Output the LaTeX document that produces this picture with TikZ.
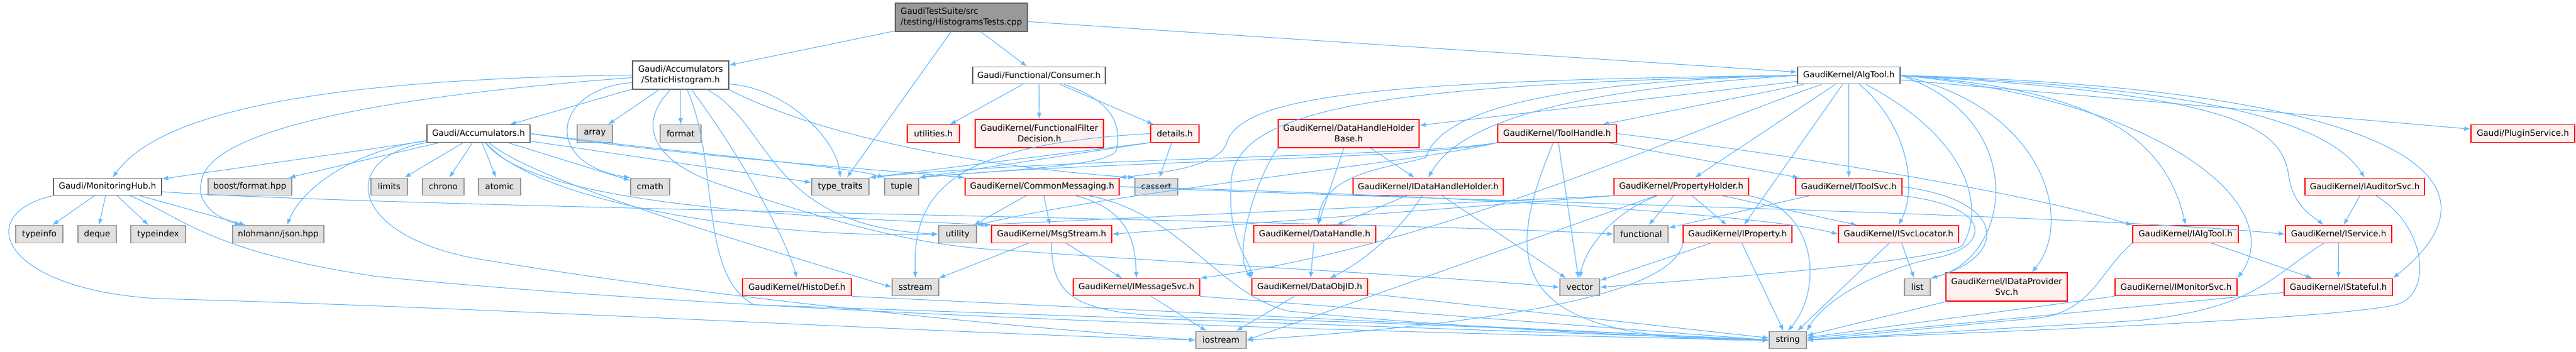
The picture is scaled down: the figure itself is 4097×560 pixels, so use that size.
\documentclass[tikz,border=0pt]{standalone}
\usepackage{fontspec}
\setmainfont{DejaVu Sans}
\usetikzlibrary{arrows.meta}
\definecolor{edgeblue}{HTML}{63B8FF}
\definecolor{redfill}{HTML}{FFF0F0}
\definecolor{redline}{HTML}{FF0000}
\definecolor{grayfill}{HTML}{E0E0E0}
\definecolor{grayline}{HTML}{999999}
\definecolor{darkline}{HTML}{666666}
\definecolor{rootfill}{HTML}{999999}
\tikzset{
  box/.style={rectangle, line width=0.65pt, inner sep=0pt, text=black, font=\fontsize{6.67}{8.5}\selectfont},
  rednode/.style={box, draw=redline, fill=redfill},
  graynode/.style={box, draw=grayline, fill=grayfill},
  whitenode/.style={box, draw=darkline, fill=white},
  rootnode/.style={box, draw=darkline, fill=rootfill},
  sl/.style={minimum height=13.75pt},
  dl/.style={minimum height=22.5pt, align=center},
  e/.style={draw=edgeblue, line width=0.55pt, -{Latex[length=5pt,width=3.6pt]}},
}
\begin{document}
\begin{tikzpicture}[x=0.5pt,y=-0.5pt]
\useasboundingbox (0,0) rectangle (4097,560);
% ---------- nodes ----------
\node[rootnode, minimum width=105pt, minimum height=22.5pt, align=left] (test) at (1529,27.5) {GaudiTestSuite/src\\/testing/HistogramsTests.cpp};
\node[whitenode, dl, minimum width=76.5pt] (stat) at (1082.5,119.5) {Gaudi/Accumulators\\/StaticHistogram.h};
\node[whitenode, sl, minimum width=105.5pt] (cons) at (1652.5,120) {Gaudi/Functional/Consumer.h};
\node[whitenode, sl, minimum width=81.5pt] (algtool) at (2940.5,120) {GaudiKernel/AlgTool.h};
% row C
\node[whitenode, sl, minimum width=82pt] (acc) at (761,212.5) {Gaudi/Accumulators.h};
\node[graynode, sl, minimum width=28pt] (array) at (946,212.5) {array};
\node[graynode, sl, minimum width=32.5pt] (format) at (1082.5,212.5) {format};
\node[rednode, sl, minimum width=41.5pt] (utilities) at (1484.5,212.5) {utilities.h};
\node[rednode, dl, minimum width=102pt] (ffd) at (1653,212.5) {GaudiKernel/FunctionalFilter\\Decision.h};
\node[rednode, sl, minimum width=38.5pt] (details) at (1868.5,212.5) {details.h};
\node[rednode, dl, minimum width=112pt] (dhhb) at (2145,212.5) {GaudiKernel/DataHandleHolder\\Base.h};
\node[rednode, sl, minimum width=94.5pt] (toolhandle) at (2476.5,212.5) {GaudiKernel/ToolHandle.h};
\node[rednode, sl, minimum width=82.5pt] (plugin) at (4012.5,212.5) {Gaudi/PluginService.h};
% row D
\node[whitenode, sl, minimum width=86pt] (mhub) at (171,297) {Gaudi/MonitoringHub.h};
\node[graynode, sl, minimum width=66.5pt] (boost) at (397.5,297) {boost/format.hpp};
\node[graynode, sl, minimum width=29pt] (limits) at (619,297) {limits};
\node[graynode, sl, minimum width=33pt] (chrono) at (705,297) {chrono};
\node[graynode, sl, minimum width=33.5pt] (atomic) at (794.5,297) {atomic};
\node[graynode, sl, minimum width=31pt] (cmath) at (1034,297) {cmath};
\node[graynode, sl, minimum width=45.5pt] (typetraits) at (1336.5,297) {type\_traits};
\node[graynode, sl, minimum width=27pt] (tuple) at (1434,297) {tuple};
\node[rednode, sl, minimum width=122.5pt] (commsg) at (1657.5,297) {GaudiKernel/CommonMessaging.h};
\node[graynode, sl, minimum width=34pt] (cassert) at (1839,297) {cassert};
\node[rednode, sl, minimum width=119.5pt] (idhh) at (2271.5,297) {GaudiKernel/IDataHandleHolder.h};
\node[rednode, sl, minimum width=107pt] (propholder) at (2674,297) {GaudiKernel/PropertyHolder.h};
\node[rednode, sl, minimum width=84.5pt] (itoolsvc) at (2940.5,297) {GaudiKernel/IToolSvc.h};
\node[rednode, sl, minimum width=95pt] (iauditor) at (3761,297) {GaudiKernel/IAuditorSvc.h};
% row E
\node[graynode, sl, minimum width=37.5pt] (typeinfo) at (62.5,372.5) {typeinfo};
\node[graynode, sl, minimum width=30.5pt] (deque) at (154.5,372.5) {deque};
\node[graynode, sl, minimum width=43.5pt] (typeindex) at (251.5,372.5) {typeindex};
\node[graynode, sl, minimum width=72.5pt] (json) at (442.5,372.5) {nlohmann/json.hpp};
\node[graynode, sl, minimum width=30pt] (utility) at (1523,372.5) {utility};
\node[rednode, sl, minimum width=95.5pt] (msgstream) at (1672.5,372.5) {GaudiKernel/MsgStream.h};
\node[rednode, sl, minimum width=97pt] (datahandle) at (2091,372.5) {GaudiKernel/DataHandle.h};
\node[graynode, sl, minimum width=43pt] (functional) at (2610,372.5) {functional};
\node[rednode, sl, minimum width=86.5pt] (iproperty) at (2763.5,372.5) {GaudiKernel/IProperty.h};
\node[rednode, sl, minimum width=95.5pt] (isvcloc) at (3019.5,372.5) {GaudiKernel/ISvcLocator.h};
\node[rednode, sl, minimum width=84pt] (ialgtool) at (3476,372.5) {GaudiKernel/IAlgTool.h};
\node[rednode, sl, minimum width=84.5pt] (iservice) at (3719.5,372.5) {GaudiKernel/IService.h};
% row F
\node[rednode, sl, minimum width=86.5pt] (histodef) at (1267.5,457) {GaudiKernel/HistoDef.h};
\node[graynode, sl, minimum width=37pt] (sstream) at (1456,457) {sstream};
\node[rednode, sl, minimum width=100.5pt] (imsgsvc) at (1807.5,457) {GaudiKernel/IMessageSvc.h};
\node[rednode, sl, minimum width=92pt] (dataobjid) at (2083,457) {GaudiKernel/DataObjID.h};
\node[graynode, sl, minimum width=31.5pt] (vector) at (2512.5,457) {vector};
\node[graynode, sl, minimum width=20.5pt] (list) at (3049.5,457) {list};
\node[rednode, dl, minimum width=96.5pt] (idps) at (3191.5,456.5) {GaudiKernel/IDataProvider\\Svc.h};
\node[rednode, sl, minimum width=97pt] (imonitor) at (3461,457) {GaudiKernel/IMonitorSvc.h};
\node[rednode, sl, minimum width=86pt] (istateful) at (3719,457) {GaudiKernel/IStateful.h};
% row G
\node[graynode, sl, minimum width=40pt] (iostream) at (1942,541) {iostream};
\node[graynode, sl, minimum width=29.5pt] (string) at (2843.5,541) {string};
% ---------- edges ----------
% root
\draw[e] (test) -- (stat);
\draw[e] (test) -- (cons);
\draw[e] (test) -- (algtool);
\draw[e] (test) -- (typetraits);
% StaticHistogram
\draw[e] (stat) -- (acc);
\draw[e] (stat) -- (array);
\draw[e] (stat) -- (format);
\draw[e] (stat.west) .. controls (550,125) and (260,170) .. ([xshift=4pt]mhub.north);
\draw[e] ([yshift=-2pt]stat.west) .. controls (650,150) and (330,200) .. (320,290) .. controls (312,320) and (340,345) .. ([xshift=7pt]json.north west);
\draw[e] ([yshift=-6pt]stat.west) .. controls (880,140) and (860,260) .. (cmath.north west);
\draw[e] (stat) .. controls (1230,200) and (1220,360) .. (utility.west);
\draw[e] ([xshift=-8pt]stat.south) .. controls (1010,200) and (1040,260) .. (1150,295) .. controls (1300,345) and (1450,392) .. (1600,398) .. controls (1900,420) and (2300,440) .. (vector.west);
\draw[e] (stat) .. controls (1145,260) and (1110,440) .. (1200,485) -- (string.west);
\draw[e] (stat) .. controls (1180,250) and (1250,380) .. (histodef.north);
\draw[e] (stat.south east) .. controls (1300,215) and (1550,265) .. (cassert.north west);
\draw[e] ([yshift=-7pt]stat.east) .. controls (1250,140) and (1330,220) .. (typetraits.north);
% Consumer
\draw[e] (cons) -- (utilities);
\draw[e] (cons) -- (ffd);
\draw[e] (cons) -- (details);
\draw[e] ([xshift=20pt]cons.south) .. controls (1770,160) and (1785,200) .. (1775,240) .. controls (1760,265) and (1600,270) .. (tuple.north east);
% details
\draw[e] (details.south west) -- (typetraits.north east);
\draw[e] (details.south west) -- (tuple.north east);
\draw[e] (details) -- (cassert);
\draw[e] (details.west) .. controls (1520,230) and (1450,300) .. (sstream.north);
% Accumulators
\draw[e] (acc) -- (mhub);
\draw[e] (acc) -- (boost);
\draw[e] (acc) .. controls (560,240) and (480,300) .. ([xshift=7pt]json.north);
\draw[e] (acc) -- (limits);
\draw[e] (acc) -- (chrono);
\draw[e] (acc) -- (atomic);
\draw[e] (acc) -- (cmath);
\draw[e] (acc) -- (typetraits);
\draw[e] (acc.east) .. controls (1100,245) and (1350,265) .. (tuple.north west);
\draw[e] (acc.east) .. controls (1100,250) and (1400,270) .. (commsg.north west);
\draw[e] (acc) .. controls (850,320) and (1200,380) .. (utility.west);
\draw[e] (acc) .. controls (850,330) and (1300,345) .. (msgstream.north west);
\draw[e] (acc) .. controls (850,290) and (1200,390) .. (sstream.west);
\draw[e] (acc.south west) .. controls (540,250) and (550,370) .. (750,410) .. controls (1100,470) and (1600,520) .. (iostream.west);
% MonitoringHub
\draw[e] (mhub) -- (typeinfo);
\draw[e] (mhub) -- (deque);
\draw[e] (mhub) -- (typeindex);
\draw[e] (mhub) -- (json);
\draw[e] ([yshift=-4pt]mhub.east) .. controls (600,330) and (2200,352) .. (functional.west);
\draw[e] (mhub) .. controls (290,345) and (330,400) .. (600,440) .. controls (1200,500) and (2200,530) .. (string.west);
\draw[e] (mhub.south west) .. controls (-45,340) and (0,460) .. (250,475) .. controls (800,490) and (1500,530) .. (iostream.west);
% AlgTool
\draw[e] (algtool) -- (plugin);
\draw[e] (algtool) -- (dhhb);
\draw[e] (algtool) -- (toolhandle);
\draw[e] (algtool.west) .. controls (2550,140) and (2330,180) .. (idhh.north);
\draw[e] (algtool.west) .. controls (2450,130) and (2290,180) .. (2268,250) .. controls (2230,265) and (2100,270) .. ([xshift=3pt]datahandle.north);
\draw[e] (algtool.west) .. controls (2200,128) and (1970,150) .. (1950,230) .. controls (1935,265) and (1850,275) .. (commsg.north east);
\draw[e] (algtool.west) .. controls (2200,135) and (1950,170) .. (1958,300) .. controls (1952,380) and (1990,420) .. (dataobjid.north west);
\draw[e] (algtool) .. controls (2700,200) and (2300,390) .. (imsgsvc.north east);
\draw[e] (algtool) -- (propholder);
\draw[e] (algtool) -- (iproperty);
\draw[e] (algtool) -- (itoolsvc);
\draw[e] (algtool) .. controls (3035,200) and (3050,300) .. (isvcloc.north);
\draw[e] (algtool) .. controls (3130,220) and (3160,330) .. (3120,392) .. controls (3050,420) and (2700,445) .. (vector.east);
\draw[e] (algtool.east) .. controls (3230,190) and (3200,410) .. (list.north east);
\draw[e] (algtool.east) .. controls (3250,170) and (3300,350) .. ([xshift=20pt]idps.north);
\draw[e] (algtool.east) .. controls (3300,140) and (3440,200) .. (ialgtool.north);
\draw[e] (algtool.east) .. controls (3450,160) and (3640,330) .. (imonitor.north east);
\draw[e] (algtool.east) .. controls (3550,150) and (3630,200) .. (3640,280) .. controls (3648,330) and (3680,345) .. ([xshift=-12pt]iservice.north);
\draw[e] (algtool.east) .. controls (3500,140) and (3700,190) .. (iauditor.north);
\draw[e] (algtool.east) .. controls (3800,140) and (4010,280) .. (istateful.north east);
% ToolHandle
\draw[e] (toolhandle.south west) .. controls (2250,250) and (1700,250) .. (typetraits.north east);
\draw[e] (toolhandle.south west) .. controls (2250,255) and (1750,255) .. (tuple.north east);
\draw[e] (toolhandle.south west) .. controls (2250,260) and (1800,300) .. (utility.north east);
\draw[e] (toolhandle.east) .. controls (2800,240) and (3200,300) .. (ialgtool.north west);
\draw[e] (toolhandle) -- (itoolsvc);
\draw[e] (toolhandle) .. controls (2390,420) and (2390,545) .. (string.west);
\draw[e] (toolhandle) -- (vector);
% DataHandleHolderBase
\draw[e] (dhhb) -- (idhh);
\draw[e] (dhhb) -- (datahandle);
\draw[e] (dhhb.south west) .. controls (2000,280) and (1960,400) .. (dataobjid.north west);
% IDataHandleHolder
\draw[e] (idhh) -- (datahandle);
\draw[e] (idhh) .. controls (2230,360) and (2180,410) .. ([xshift=16pt]dataobjid.north);
\draw[e] (idhh) -- (vector);
% DataHandle / DataObjID
\draw[e] (datahandle) -- (dataobjid);
\draw[e] (dataobjid) -- (iostream);
\draw[e] (dataobjid) -- (string);
% CommonMessaging
\draw[e] (commsg) -- (utility);
\draw[e] (commsg) -- (msgstream);
\draw[e] (commsg) .. controls (1800,335) and (1805,390) .. (imsgsvc.north);
\draw[e] (commsg) .. controls (1880,340) and (1940,470) .. (2050,495) .. controls (2300,520) and (2600,535) .. (string.west);
\draw[e] (commsg.east) .. controls (2300,320) and (3300,340) .. (iservice.west);
\draw[e] (commsg.east) .. controls (2300,310) and (2800,340) .. (isvcloc.west);
% MsgStream
\draw[e] (msgstream) -- (sstream);
\draw[e] (msgstream) -- (imsgsvc);
\draw[e] (msgstream.south) .. controls (1672,480) and (1720,500) .. (1900,505) .. controls (2300,515) and (2600,532) .. (string.west);
% IMessageSvc
\draw[e] (imsgsvc) -- (iostream);
\draw[e] (imsgsvc.south east) -- (string.west);
% PropertyHolder
\draw[e] (propholder.south west) -- (utility.north east);
\draw[e] (propholder.south west) -- (msgstream.east);
\draw[e] (propholder) -- (functional);
\draw[e] (propholder) -- (iproperty);
\draw[e] (propholder) -- (isvcloc);
\draw[e] (propholder) .. controls (2560,340) and (2520,400) .. (vector.north);
\draw[e] (propholder) -- (iostream.east);
\draw[e] (propholder.south east) .. controls (2890,330) and (2900,460) .. (string.north);
% IToolSvc
\draw[e] (itoolsvc) -- (functional);
\draw[e] (itoolsvc.east) .. controls (3200,320) and (3190,410) .. (list.north east);
\draw[e] (itoolsvc.south east) .. controls (3180,330) and (3160,395) .. (3080,410) .. controls (2980,430) and (2900,480) .. (string.north east);
% ISvcLocator / IProperty
\draw[e] (isvcloc) -- (string);
\draw[e] (isvcloc) -- (list);
\draw[e] (iproperty) -- (string);
\draw[e] (iproperty) -- (vector);
\draw[e] (iproperty.south west) .. controls (2660,480) and (2300,520) .. (iostream.east);
% IAlgTool / IService / IAuditorSvc
\draw[e] (ialgtool) -- (istateful);
\draw[e] (ialgtool.south west) .. controls (3340,430) and (3330,490) .. (3250,505) -- (string.east);
\draw[e] (iservice) -- (istateful);
\draw[e] (iservice) .. controls (3610,440) and (3590,490) .. (3400,510) -- (string.east);
\draw[e] (iauditor) -- (iservice);
\draw[e] ([xshift=9pt]iauditor.south) .. controls (3860,360) and (3870,470) .. (3810,485) .. controls (3700,510) and (3100,530) .. (string.east);
% to string
\draw[e] (istateful) -- (string);
\draw[e] (imonitor.south west) -- (string);
\draw[e] (idps) -- (string);
\draw[e] (histodef.south east) -- (string.west);
\end{tikzpicture}
\end{document}
